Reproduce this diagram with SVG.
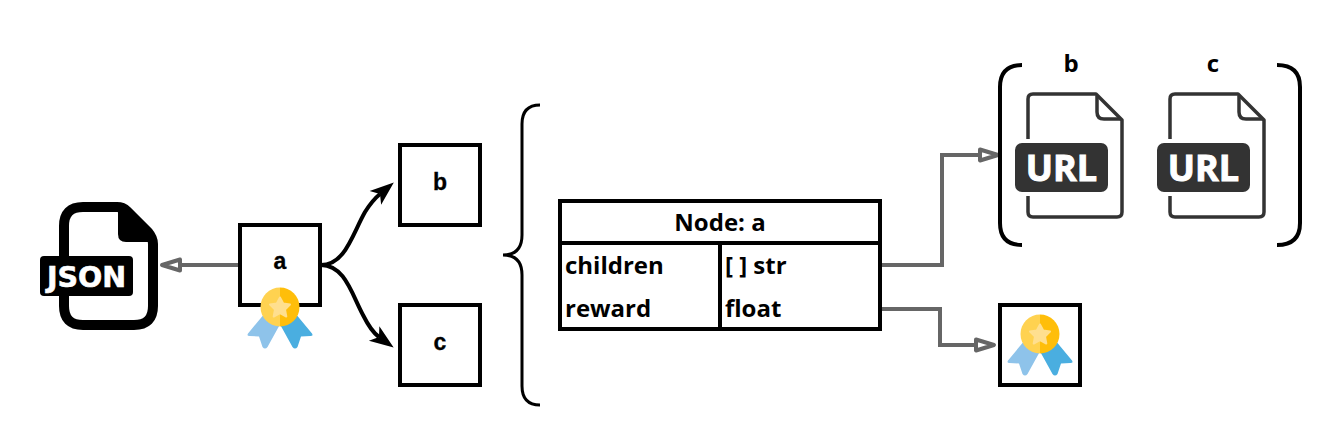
<svg xmlns="http://www.w3.org/2000/svg" xmlns:xlink="http://www.w3.org/1999/xlink" width="1340" height="445" viewBox="0 0 1340 445">
<style>
.box{fill:#fff;stroke:#000;stroke-width:4}
.line{fill:none;stroke:#000;stroke-width:4}
.thin{fill:none;stroke:#000;stroke-width:3}
.gray{fill:none;stroke:#666;stroke-width:4;marker-end:url(#open)}
.curve{fill:none;stroke:#000;stroke-width:4;marker-end:url(#solid)}
.h{font-family:"Liberation Sans",Arial,sans-serif;font-weight:700;font-size:23px;text-anchor:middle;fill:#000;stroke:#000;stroke-width:.3}
.t{font-family:"Open Sans","Noto Sans",sans-serif;font-weight:700;font-size:24px;fill:#000}
.m{text-anchor:middle}
.url{font-family:"Open Sans","Noto Sans",sans-serif;font-weight:700;font-size:36px;text-anchor:middle;fill:#fff;stroke:#fff;stroke-width:1}
.fs{fill:none;stroke:#333;stroke-width:3.5;stroke-linejoin:round}
</style>
<defs>
<marker id="open" markerUnits="userSpaceOnUse" markerWidth="28" markerHeight="20" refX="2" refY="10" orient="auto">
<path d="M2 4.500 L20 10 L2 15.500 Z" fill="#fff" stroke="#666" stroke-width="4" stroke-linejoin="round"/>
</marker>
<marker id="solid" markerUnits="userSpaceOnUse" markerWidth="28" markerHeight="22" refX="6" refY="11" orient="auto">
<path d="M0 2 L24 11 L0 20 L6 11 Z" fill="#000"/>
</marker>
<g id="medal">
<path d="M-15 6 L-32 26.500 Q-33.500 29 -30.500 29 L-21 29.500 L-17.500 40 Q-15 43 -12.500 40 L-2 21 L5 9 Z" fill="#8ec3ea"/>
<path d="M15 6 L32 26.500 Q33.500 29 30.500 29 L21 29.500 L17.500 40 Q15 43 12.500 40 L2 21 L-5 9 Z" fill="#4aaee0"/>
<path d="M0 -19.500 A19.500 19.500 0 0 0 0 19.500 Z" fill="#ffd250"/>
<path d="M0 -19.500 A19.500 19.500 0 0 1 0 19.500 Z" fill="#ffbe0a"/>
<path d="M0 -9.500 L3.200 -3.500 L10 -2.500 L5 2.500 L6.300 9.500 L0 6.200 L-6.300 9.500 L-5 2.500 L-10 -2.500 L-3.200 -3.500 Z" fill="#ffdf8f" stroke="#ffdf8f" stroke-linejoin="round" stroke-width="2"/>
</g>
<g id="urlfile">
<path class="fs" d="M1028 139 V99 Q1028 94 1033 94 H1096 L1122 120 V212 Q1122 217 1117 217 H1033 Q1028 217 1028 212 V196"/>
<path class="fs" d="M1097 96 V112 Q1097 119 1104 119 H1121"/>
<rect x="1015" y="143" width="93" height="49" rx="7" fill="#333"/>
<text class="url" x="1061.500" y="180.500">URL</text>
</g>
</defs>

<g id="connectors">
<path class="gray" d="M240 265 H180"/>
<path class="curve" d="M321 265 C345 265 352 235 365 212 C370 204 374 199 380 194"/>
<path class="curve" d="M321 265 C345 265 352 295 363 315 C368 325 372 332 379 337"/>
<path class="gray" d="M880 265 H942 V155 H980"/>
<path class="gray" d="M880 309 H940 V345 H976"/>
</g>

<g id="json">
<path d="M64 226 Q64 207 83 207 H117 Q123 207 127 211 L148 232 Q153 238 153 244 V306 Q153 325 134 325 H83 Q64 325 64 306 Z" fill="#fff" stroke="#000" stroke-width="10" stroke-linejoin="round"/>
<path d="M118 207 H124 L153 237 V242 H126 Q118 242 118 234 Z" fill="#000"/>
<rect x="40" y="256" width="93" height="40" rx="4" fill="#000"/>
<text x="86.500" y="286.500" font-family="'DejaVu Sans',sans-serif" font-weight="700" font-size="28.500" text-anchor="middle" fill="#fff" stroke="#fff" stroke-width="0.600">JSON</text>
</g>

<g id="node-a">
<rect class="box" x="240" y="225" width="80" height="80"/>
<text class="h" x="280" y="269">a</text>
<use xlink:href="#medal" href="#medal" x="280" y="307"/>
</g>
<g id="node-b">
<rect class="box" x="400" y="145" width="80" height="80"/>
<text class="h" x="440" y="190">b</text>
</g>
<g id="node-c">
<rect class="box" x="400" y="305" width="80" height="80"/>
<text class="h" x="440" y="350">c</text>
</g>

<g id="brace">
<path class="thin" d="M540 105 Q522 105 522 124 V235 Q522 255 503 255 Q522 255 522 275 V386 Q522 405 540 405"/>
</g>

<g id="table">
<rect class="box" x="560" y="201" width="320" height="128"/>
<path class="line" d="M560 243 H880 M720 243 V329"/>
<text class="t m" x="720" y="231">Node: a</text>
<text class="t" x="565" y="274">children</text>
<text class="t" x="565" y="317">reward</text>
<text class="t" x="725" y="274">[ ] str</text>
<text class="t" x="725" y="317">float</text>
</g>

<g id="urls">
<path class="line" d="M1022 65 Q1000 65 1000 87 V223 Q1000 245 1022 245"/>
<path class="line" d="M1277 65 Q1300 65 1300 87 V223 Q1300 245 1277 245"/>
<text class="t m" x="1071" y="72">b</text>
<text class="t m" x="1213" y="72">c</text>
<use xlink:href="#urlfile" href="#urlfile"/>
<use xlink:href="#urlfile" href="#urlfile" x="142"/>
</g>

<g id="reward">
<rect class="box" x="1000" y="305" width="80" height="80"/>
<use xlink:href="#medal" href="#medal" x="1040" y="334"/>
</g>
</svg>
